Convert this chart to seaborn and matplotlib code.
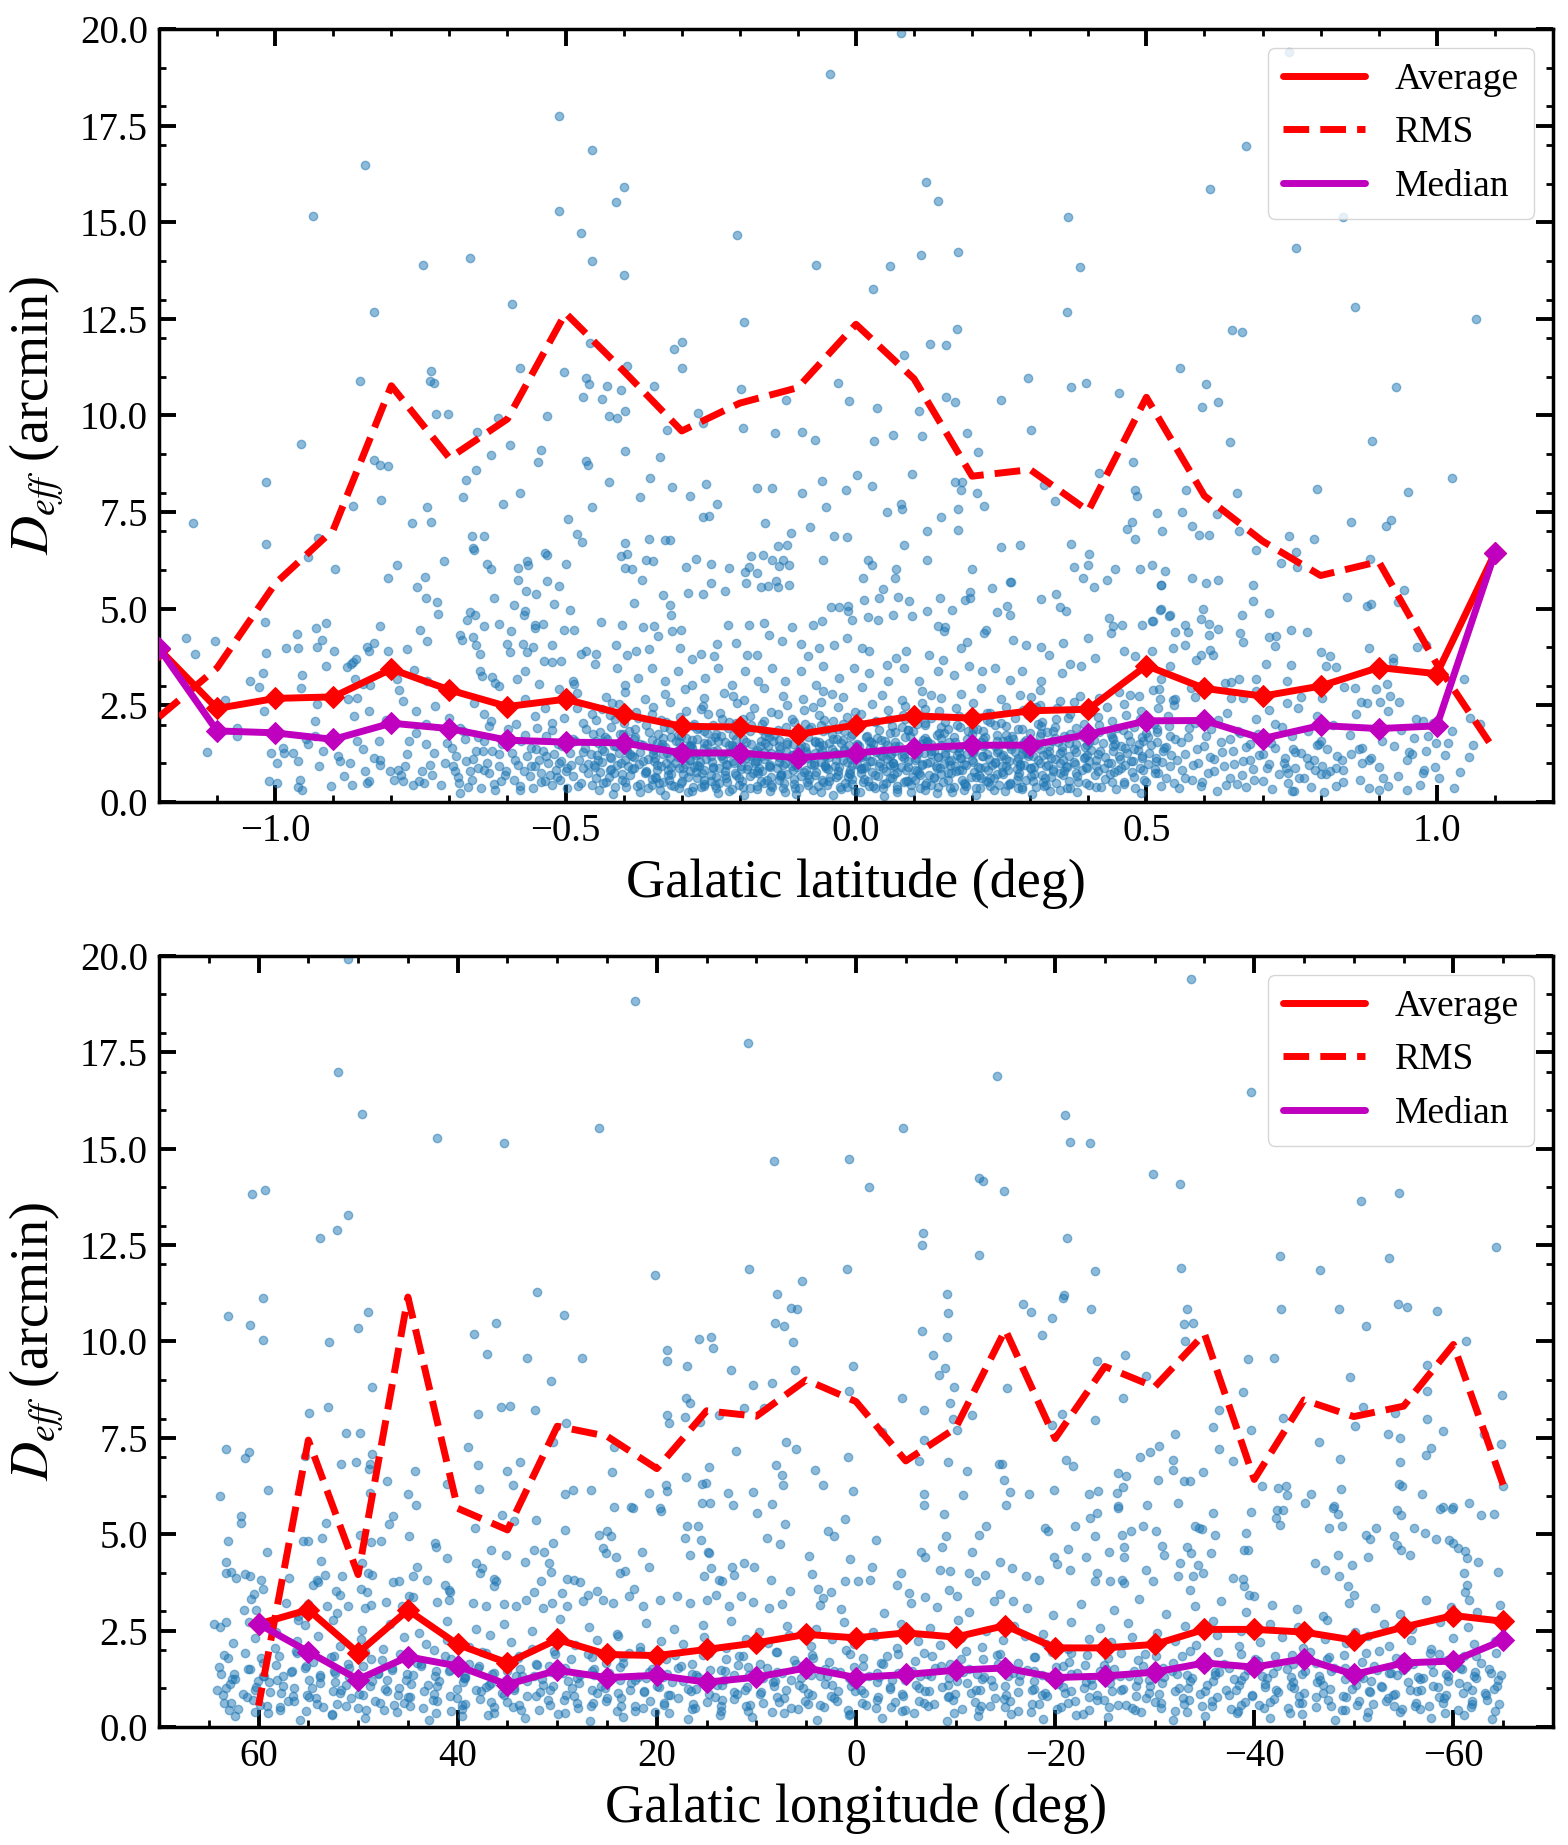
import numpy as np
import pandas as pd
import seaborn as sns
import matplotlib
matplotlib.use("Agg")
import matplotlib.pyplot as plt
from matplotlib.lines import Line2D
from matplotlib.ticker import MultipleLocator

# ---------------- binned statistics ----------------
lat_bins = [-1.2, -1.1, -1.0, -0.9, -0.8, -0.7, -0.6, -0.5, -0.4, -0.3, -0.2, -0.1,
            0.0, 0.1, 0.2, 0.3, 0.4, 0.5, 0.6, 0.7, 0.8, 0.9, 1.0, 1.1]
lat_avg = [3.96, 2.42, 2.68, 2.72, 3.44, 2.90, 2.47, 2.66, 2.27, 1.96, 1.94, 1.75,
           1.99, 2.23, 2.17, 2.36, 2.40, 3.53, 2.94, 2.74, 3.00, 3.48, 3.32, 6.44]
lat_rms = [2.20, 3.47, 5.65, 7.04, 10.77, 8.90, 9.91, 12.65, 11.15, 9.60, 10.32, 10.72,
           12.36, 10.95, 8.43, 8.60, 7.53, 10.47, 7.92, 6.75, 5.86, 6.22, 3.57, 1.33]
lat_med = [3.98, 1.84, 1.79, 1.62, 2.04, 1.90, 1.60, 1.55, 1.53, 1.27, 1.27, 1.14,
           1.27, 1.40, 1.47, 1.47, 1.75, 2.10, 2.11, 1.64, 1.98, 1.90, 1.97, 6.44]

lon_bins = [60, 55, 50, 45, 40, 35, 30, 25, 20, 15, 10, 5, 0,
            -5, -10, -15, -20, -25, -30, -35, -40, -45, -50, -55, -60, -65]
lon_avg = [2.67, 3.04, 1.92, 3.03, 2.14, 1.66, 2.27, 1.88, 1.85, 2.01, 2.18, 2.40, 2.31,
           2.44, 2.33, 2.63, 2.05, 2.05, 2.14, 2.53, 2.53, 2.46, 2.25, 2.59, 2.89, 2.74]
lon_rms = [0.55, 7.44, 3.95, 11.15, 5.67, 5.11, 7.80, 7.54, 6.70, 8.20, 8.06, 9.00, 8.44,
           6.90, 7.75, 10.30, 7.48, 9.35, 8.82, 10.20, 6.42, 8.48, 8.05, 8.32, 9.92, 6.28]
lon_med = [2.67, 1.95, 1.23, 1.82, 1.58, 1.10, 1.47, 1.28, 1.34, 1.16, 1.29, 1.53, 1.28,
           1.36, 1.47, 1.53, 1.28, 1.32, 1.42, 1.66, 1.55, 1.77, 1.36, 1.66, 1.71, 2.25]

# ---------------- individual sources (x y pairs, estimated from the figure) ----------------
lat_pts_high = """
-0.045 18.83 -0.511 17.75 -0.454 16.88 -0.845 16.47 -0.400 15.90 -0.414 15.52 -0.935 15.17 -0.512 15.28
-0.473 14.73 -0.205 14.68 -0.746 13.90 -0.665 14.08 -0.455 13.99 -0.400 13.63 -0.068 13.90 -0.592 12.88
-0.829 12.67 -0.192 12.43 -0.458 11.87 -0.300 11.90 -0.313 11.72 -0.300 11.22 -0.578 11.22 -0.732 11.14
-0.854 10.90 -0.734 10.88 -0.726 10.83 -0.503 11.12 -0.464 10.96 -0.459 10.82 -0.394 11.27 -0.348 10.77
-0.428 10.77 -0.404 10.67 -0.470 10.48 -0.437 10.42 -0.198 10.68 -0.121 10.41 -0.031 10.83 -0.012 10.38
-0.723 10.04 -0.703 10.05 -0.617 9.94 -0.532 9.99 -0.425 9.99 -0.412 9.94 -0.398 10.12 -0.272 10.06
-0.264 9.81 -0.325 9.63 -0.194 9.67 -0.140 9.55 -0.093 9.57 -0.070 9.37 -0.652 9.57 -0.955 9.26
-0.596 9.24 -0.542 9.11 -0.548 8.80 -0.628 8.97 -0.398 9.09 -0.464 8.82 -0.462 8.71 -0.338 8.93
-0.829 8.86 -0.819 8.71 -0.806 8.70 -1.015 8.28 -0.671 8.33 -0.655 8.60 -0.059 8.31 -0.354 8.39
-0.425 8.27 -0.259 8.22 -0.170 8.13 -0.144 8.13 -0.017 8.08 -0.316 8.15 -0.818 7.81 -0.578 8.00
-0.677 7.90 -0.608 7.70 -0.371 7.88 -0.286 7.91 -0.240 7.70 -0.093 8.00 -0.052 7.63 -0.866 7.66
-0.738 7.62 -0.455 7.62 -1.141 7.23 -0.731 7.25 -0.765 7.22 -0.495 7.32 -0.263 7.38 -0.253 7.39
-0.157 7.23 -0.080 7.12 -0.015 6.85 -0.480 6.93 -0.472 6.73 -0.661 6.88 -0.641 6.87 -0.660 6.57
-0.657 6.53 -0.398 6.69 -0.357 6.81 -0.329 6.79 -0.320 6.78 -0.112 6.97 -0.134 6.62 -0.118 6.64
-1.015 6.67 -0.927 6.83 -0.943 6.34 -0.897 6.03 -0.790 6.14 -0.710 6.23 -0.635 6.17 -0.629 6.03
-0.582 6.06 -0.566 6.23 -0.564 6.14 -0.535 6.43 -0.532 6.38 -0.500 6.15 -0.404 6.36 -0.394 6.41
-0.398 6.05 -0.385 6.03 -0.362 6.26 -0.349 6.24 -0.292 6.08 -0.275 6.29 -0.249 6.15 -0.219 6.06
-0.191 5.95 -0.185 6.08 -0.180 6.37 -0.170 5.93 -0.160 6.38 -0.145 6.26 -0.132 6.11 -0.126 6.27
-0.115 6.14 -0.056 6.27 -0.037 6.87 -0.806 5.79 -0.742 5.81 -0.582 5.75 -0.532 5.73 -0.368 5.74
0.078 19.90 0.745 19.40 0.672 16.98 0.120 16.04 0.609 15.85 0.141 15.54 0.365 15.13 0.758 14.33
0.839 15.13 0.112 14.15 0.059 13.86 0.175 14.22 0.385 13.83 0.030 13.27 0.859 12.80 1.068 12.50
0.364 12.67 0.174 12.24 0.648 12.21 0.665 12.17 0.127 11.86 0.155 11.82 0.082 11.57 0.558 11.24
0.297 10.98 0.371 10.75 0.396 10.83 0.453 10.59 0.602 10.82 0.930 10.73 0.036 10.20 0.108 10.11
0.155 10.48 0.171 10.36 0.250 10.41 0.595 10.23 0.624 10.35 0.031 9.34 0.063 9.49 0.113 9.47
0.191 9.54 0.301 9.63 0.644 9.32 0.889 9.35 0.210 9.05 0.001 8.45 0.027 8.18 0.096 8.49
0.171 8.27 0.180 8.08 0.182 8.27 0.209 8.00 0.221 7.67 0.175 7.57 0.054 7.51 0.077 7.72
0.080 7.58 0.323 8.20 0.342 7.80 0.418 8.52 0.477 8.80 0.480 8.08 0.483 7.93 0.568 8.06
0.656 7.99 0.794 8.10 0.950 8.03 1.027 8.39 0.519 7.47 0.562 7.50 0.621 7.45 0.146 7.38
0.123 7.00 0.175 7.05 0.083 6.64 0.475 7.25 0.466 7.07 0.481 6.81 0.527 7.01 0.578 7.13
0.590 6.92 0.607 6.90 0.659 7.00 0.746 6.88 0.788 6.80 0.853 7.25 0.912 7.13 0.922 7.29
0.689 6.53 0.758 6.48 0.885 6.29 0.250 6.60 0.283 6.66 0.371 6.68 0.401 6.42 0.400 6.14
0.376 6.08 0.446 6.02 0.489 6.04 0.509 6.14 0.532 5.98 0.578 5.80 0.624 5.75 0.731 6.18
0.760 6.07 0.021 6.27 0.027 6.14 0.069 6.02 0.122 6.27 0.200 6.02 0.012 5.80 0.068 5.80
0.266 5.70 0.391 5.80 0.433 5.74
"""

lat_pts_mid = """
-1.153 4.25 -1.138 3.83 -1.103 4.16 -1.018 4.65 -1.016 3.85 -1.043 3.14 -1.021 3.33 -1.028 2.98
-1.019 2.36 -1.087 2.63 -0.982 3.98 -0.961 3.98 -0.963 4.35 -0.929 4.51 -0.913 4.63 -0.919 4.19
-0.928 4.00 -0.898 3.92 -0.954 3.29 -0.955 2.94 -0.913 3.53 -0.877 3.50 -0.870 3.57 -0.866 3.61
-0.860 3.70 -0.819 4.56 -0.829 4.12 -0.806 3.90 -0.839 3.92 -0.842 4.00 -0.862 3.18 -0.849 3.05
-0.836 3.02 -0.859 2.70 -0.865 2.23 -0.773 3.95 -0.761 3.41 -0.791 3.18 -0.786 2.89 -0.751 4.46
-0.755 5.56 -0.741 5.28 -0.739 4.17 -0.722 5.17 -0.720 4.87 -0.681 4.31 -0.678 4.18 -0.669 4.72
-0.664 4.91 -0.656 4.84 -0.660 4.26 -0.655 4.05 -0.640 4.56 -0.624 5.29 -0.615 4.61 -0.648 3.83
-0.647 3.40 -0.644 3.26 -0.622 3.09 -0.615 3.01 -0.626 3.24 -0.707 2.88 -0.739 3.14 -0.724 2.49
-0.589 5.11 -0.568 5.46 -0.551 5.37 -0.572 4.85 -0.569 4.94 -0.553 4.57 -0.552 4.50 -0.539 4.61
-0.520 5.13 -0.511 5.58 -0.493 4.96 -0.486 4.44 -0.503 4.44 -0.594 4.42 -0.574 4.09 -0.566 3.87
-0.556 4.00 -0.523 4.05 -0.508 3.66 -0.523 3.63 -0.537 3.66 -0.595 3.87 -0.600 4.09 -0.583 3.18
-0.570 3.40 -0.546 3.05 -0.512 2.92 -0.487 3.14 -0.486 3.05 -0.481 2.83 -0.474 3.83 -0.465 3.92
-0.447 3.83 -0.450 3.57 -0.439 4.65
-0.151 5.60 -0.138 5.72 -0.135 5.56 -0.115 5.61 -0.163 5.55 -0.190 5.67 -0.226 5.46 -0.249 5.66
-0.264 5.37 -0.289 5.42 -0.383 5.14 -0.332 5.36 -0.320 5.10 -0.318 4.85 -0.316 4.42 -0.301 4.45
-0.347 4.55 -0.366 4.53 -0.403 4.57 -0.413 4.07 -0.395 3.81 -0.378 3.90 -0.357 3.97 -0.340 4.29
-0.303 3.99 -0.283 3.70 -0.266 3.82 -0.245 3.77 -0.220 4.58 -0.240 4.09 -0.207 4.12 -0.184 4.59
-0.188 3.81 -0.171 3.81 -0.158 4.64 -0.150 4.31 -0.128 4.16 -0.110 4.52 -0.095 4.09 -0.074 4.59
-0.059 4.68 -0.043 5.05 -0.030 5.04 -0.013 5.06 -0.014 4.94 -0.007 4.72 0.013 5.23 0.020 4.79
0.038 4.72 0.064 4.85 0.039 5.29 0.046 5.50 0.072 5.31 0.092 5.21 0.096 4.81 0.122 4.94
0.145 5.29 0.151 4.42 0.141 4.55 0.153 4.53 0.166 4.96 0.188 5.22 0.196 5.43 0.197 5.29
0.220 4.38 0.234 5.54 0.242 4.91 0.260 5.06 0.266 4.85 0.267 5.69 0.319 5.24 0.345 5.37
0.352 5.05 0.362 4.94 0.410 5.55 0.436 4.77 0.525 5.61 0.439 4.38 0.458 4.59 0.493 4.59
0.512 4.68 0.523 4.96 0.539 4.81 0.442 4.55 0.400 4.25 0.356 4.11 0.319 4.00 0.293 4.07
0.270 4.18 0.224 4.45 0.191 4.13 0.181 3.99 0.150 3.68 0.125 3.81 0.086 3.90 0.069 3.73
0.053 3.55 0.023 3.90 0.010 3.99 -0.016 4.25 -0.038 4.07 -0.063 3.99 -0.082 3.77 0.368 3.58
0.387 3.51 0.411 3.73 0.461 3.90 0.480 3.77 0.510 3.90 0.546 3.99 0.332 3.81 0.355 3.34
0.319 3.12 0.286 3.38 0.266 3.16 0.240 3.47 0.217 3.38 0.194 3.51 0.168 3.29 0.141 3.38
0.109 3.12 0.082 3.47 0.056 3.12 0.023 3.34 -0.003 3.47 -0.030 3.21 -0.056 3.51 -0.069 3.03
-0.095 3.38 -0.122 3.12 -0.145 3.47 -0.168 3.12 -0.191 3.38 -0.214 3.03 -0.237 3.47 -0.260 3.21
-0.283 3.03 -0.306 3.38 -0.329 3.12 -0.352 3.47 -0.375 3.21 -0.398 3.03 -0.411 3.47
0.526 5.62 0.603 5.66 0.683 5.61 0.683 5.21 0.846 5.30 0.880 5.06 0.886 5.13 0.943 5.49
0.933 5.17 0.509 4.69 0.526 5.00 0.540 4.84 0.550 4.41 0.571 4.41 0.566 4.58 0.566 4.07
0.597 5.00 0.594 4.74 0.607 4.61 0.607 4.33 0.623 4.48 0.610 3.93 0.614 3.81 0.594 3.80
0.586 3.67 0.665 4.84 0.661 4.37 0.667 4.13 0.711 4.88 0.711 4.26 0.724 4.29 0.721 4.04
0.706 3.58 0.749 4.46 0.776 4.41 0.749 3.54 0.801 3.87 0.816 3.78 0.810 3.52 0.826 3.50
0.884 3.98 0.924 3.72 0.925 3.61 0.966 4.02 0.981 4.06 1.046 3.18 0.742 3.13 0.688 3.18
0.659 3.18 0.646 3.11 0.635 3.07 0.583 2.72 0.576 2.94 0.540 3.52 0.525 3.19 0.511 2.89
0.523 2.66 0.549 2.66 0.646 2.70 0.666 2.70 0.688 2.86 0.711 2.38 0.742 2.55 0.766 2.72
0.803 2.68 0.840 2.98 0.860 2.94 0.869 2.60 0.880 2.57 0.896 2.92 0.902 2.60 0.915 3.05
0.920 2.74 0.935 2.60 0.965 2.16 0.977 2.10 0.985 1.71 0.998 1.52 1.019 1.52 1.027 1.85
1.058 2.18 1.074 2.01 1.063 1.47 1.056 1.17 1.040 0.78 0.997 0.90 0.977 0.74 0.978 0.82
0.934 0.67 0.949 1.10 0.953 1.29 0.957 1.23 0.901 0.91 0.908 0.62 0.916 0.42 0.901 0.30
0.887 1.14 0.883 1.10 0.853 1.23 0.866 1.36 0.871 1.01 0.867 0.58 0.827 0.88 0.839 0.84
0.837 1.10 0.803 0.93 0.800 0.73 0.810 0.73 0.827 0.42 0.791 0.84 0.793 1.47 0.798 1.49
0.777 1.14 0.780 0.97 0.762 0.62 0.750 0.28 0.755 0.29 0.737 1.01 0.740 0.88 0.743 0.75
0.753 1.38 0.756 1.30
"""

lat_pts_low = """
-1.117 1.30 -1.066 1.92 -1.066 1.71 -1.010 0.54 -0.997 0.49 -1.007 1.27 -0.987 1.40 -0.984 1.27
-0.970 1.27 -0.961 1.06 -0.997 1.01 -0.944 1.49 -0.947 1.62 -0.957 0.58 -0.953 0.32 -0.961 0.38
-0.931 1.71 -0.928 2.53 -0.932 2.10 -0.924 0.93 -0.918 1.32 -0.903 0.41 -0.891 1.19 -0.888 1.06
-0.882 0.67 -0.875 2.66 -0.872 1.01 -0.868 0.45 -0.859 1.58 -0.849 1.36 -0.845 0.80 -0.842 0.49
-0.839 0.54 -0.829 1.14 -0.822 1.58 -0.820 1.10 -0.820 0.97 -0.803 0.80 -0.796 0.58 -0.789 0.84
-0.783 0.71 -0.780 0.54 -0.776 0.93 -0.773 1.23 -0.770 1.58 -0.763 0.45 -0.757 1.79 -0.753 0.54
-0.747 0.80 -0.744 0.49 -0.741 1.49 -0.734 0.97 -0.730 0.71 -0.727 1.27 -0.714 0.45 -0.707 1.01
-0.704 1.53 -0.694 0.93 -0.691 0.80 -0.688 1.19 -0.684 0.49 -0.681 0.23 -0.674 1.62 -0.671 1.06
-0.664 0.80 -0.661 0.58 -0.655 1.32 -0.651 0.88 -0.645 0.36 -0.641 1.58 -0.635 1.01 -0.632 0.75
-0.626 1.32 -0.622 0.32 -0.615 0.93 -0.612 0.54 -0.609 1.49 -0.602 0.80 -0.599 1.88 -0.592 1.27
-0.589 0.58 -0.582 0.97 -0.579 0.41 -0.576 1.58 -0.572 0.80 -0.566 1.19 -0.562 0.67 -0.559 1.40
-0.556 0.36 -0.553 0.93 -0.549 1.92 -0.546 1.10 -0.543 0.75 -0.539 1.32 -0.536 0.54 -0.533 1.71
-0.530 1.01 -0.526 0.71 -0.523 0.45 -0.520 1.23 -0.516 0.84 -0.513 1.49 -0.510 0.58 -0.507 1.06
-0.503 2.18 -0.500 0.80 -0.497 0.36 -0.493 1.27 -0.490 0.97 -0.487 0.67 -0.484 1.58 -0.477 1.10
-0.474 0.49 -0.470 0.88 -0.467 1.40 -0.464 1.88 -0.461 0.75 -0.457 1.23 -0.454 0.45 -0.451 0.97
-0.447 1.58 -0.780 2.62 -0.701 2.18 -0.681 1.92 -0.641 2.27 -0.628 2.10 -0.586 2.01 -0.569 2.66
-0.553 2.23 -0.536 2.44 -0.523 2.05 -0.480 2.44 -0.470 2.05 -0.454 2.27 -0.741 2.01 -0.809 2.11
-0.839 2.36 -0.757 2.36 -0.658 2.57
0.556 0.35 0.561 0.82 0.567 1.24 0.572 1.67 0.578 0.58 0.583 2.05 0.589 1.02 0.594 0.41
0.600 1.45 0.606 0.76 0.611 1.88 0.617 1.12 0.622 0.29 0.628 1.56 0.633 0.94 0.639 2.31
0.644 0.63 0.650 1.33 0.656 0.47 0.661 1.78 0.667 1.05 0.672 0.38 0.678 1.49 0.683 0.85
0.689 2.14 0.694 1.21 0.700 0.55 0.706 1.62 0.711 0.98 0.717 0.33 0.722 1.39 0.728 0.72
0.733 1.95 0.739 1.15 0.744 0.49 0.750 1.71 0.756 0.88 0.761 2.42 0.767 1.27 0.772 0.61
0.778 1.83 0.783 0.40 0.789 1.09 0.794 2.22 0.800 1.58 0.806 0.27 0.811 1.36 0.817 0.79
0.822 1.99 0.828 1.18 0.839 0.52 0.850 1.74 0.861 2.28 0.872 1.41 0.883 0.36 0.894 1.92
0.905 1.58 0.916 2.36 0.927 1.44 0.938 1.87 0.949 0.31 0.960 1.65 0.971 0.45 0.982 1.31
0.993 2.05 1.004 0.62 1.015 1.21 1.030 0.35
"""

lat_pts_core = """
-0.442 0.31 -0.418 0.22 -0.396 0.40 -0.371 0.27 -0.352 0.44 -0.329 0.19 -0.305 0.35 -0.283 0.28
-0.261 0.42 -0.238 0.24 -0.214 0.33 -0.192 0.17 -0.171 0.41 -0.148 0.29 -0.126 0.36 -0.103 0.21
-0.082 0.44 -0.061 0.26 -0.039 0.18 -0.016 0.38 0.007 0.25 0.029 0.42 0.048 0.16 0.071 0.34
0.094 0.27 0.118 0.43 0.139 0.23 0.162 0.36 0.186 0.30 0.207 0.19 0.231 0.41 0.256 0.28
0.279 0.37 0.303 0.22 0.328 0.44 0.352 0.31 0.381 0.26 0.413 0.39 0.447 0.33 0.491 0.24
-0.447 0.63 -0.431 0.51 -0.416 0.74 -0.403 0.58 -0.389 0.69 -0.372 0.47 -0.361 0.78 -0.344 0.61
-0.332 0.53 -0.318 0.72 -0.301 0.49 -0.289 0.66 -0.276 0.77 -0.262 0.56 -0.249 0.70 -0.236 0.48
-0.223 0.62 -0.208 0.75 -0.197 0.54 -0.183 0.67 -0.171 0.79 -0.158 0.50 -0.146 0.64 -0.133 0.57
-0.119 0.73 -0.107 0.46 -0.094 0.68 -0.081 0.59 -0.069 0.77 -0.056 0.52 -0.044 0.65 -0.031 0.71
-0.019 0.48 -0.006 0.60 0.008 0.76 0.021 0.55 0.033 0.69 0.046 0.47 0.058 0.63 0.071 0.78
0.083 0.53 0.096 0.66 0.109 0.74 0.121 0.50 0.134 0.61 0.147 0.72 0.159 0.57 0.172 0.79
0.186 0.49 0.198 0.65 0.211 0.70 0.224 0.54 0.238 0.62 0.251 0.77 0.266 0.47 0.279 0.68
0.293 0.58 0.307 0.73 0.322 0.51 0.336 0.64 0.351 0.76 0.366 0.55 0.381 0.67 0.396 0.49
0.412 0.71 0.428 0.60 0.444 0.78 0.461 0.52 0.478 0.66 0.496 0.57 0.514 0.74 0.533 0.63
0.548 0.50 -0.425 0.66 -0.352 0.59 -0.241 0.64 -0.129 0.69 -0.013 0.66 0.102 0.58 0.216 0.61
-0.449 0.91 -0.437 1.04 -0.424 0.83 -0.411 0.97 -0.398 1.08 -0.386 0.86 -0.373 0.99 -0.361 0.81
-0.348 1.06 -0.336 0.93 -0.323 0.84 -0.311 1.01 -0.298 0.89 -0.286 1.09 -0.273 0.95 -0.261 0.82
-0.248 1.03 -0.236 0.88 -0.223 0.98 -0.211 1.07 -0.198 0.85 -0.186 0.94 -0.173 1.05 -0.161 0.81
-0.148 0.96 -0.136 0.87 -0.123 1.02 -0.111 0.92 -0.098 1.09 -0.086 0.83 -0.073 0.97 -0.061 1.04
-0.048 0.86 -0.036 0.93 -0.023 1.08 -0.011 0.82 0.002 0.99 0.014 0.88 0.027 1.05 0.039 0.94
0.052 0.81 0.064 1.01 0.077 0.90 0.089 1.07 0.102 0.84 0.114 0.96 0.127 1.03 0.139 0.87
0.152 0.98 0.164 1.09 0.177 0.83 0.189 0.95 0.202 1.04 0.214 0.89 0.227 0.82 0.239 1.00
0.252 0.92 0.264 1.06 0.277 0.85 0.289 0.97 0.302 0.88 0.314 1.08 0.327 0.93 0.339 0.81
0.352 1.02 0.364 0.90 0.377 0.99 0.389 0.84 0.402 1.05 0.414 0.94 0.427 0.87 0.439 1.01
0.452 0.82 0.464 0.96 0.477 1.07 0.489 0.89 0.502 0.98 0.514 0.85 0.527 1.03 0.541 0.92
-0.392 0.94 -0.279 0.91 -0.167 0.89 -0.054 0.92 0.058 0.95 0.171 0.92 0.283 0.94 0.396 0.91
-0.105 0.99 0.008 0.87
-0.446 1.21 -0.433 1.33 -0.421 1.14 -0.408 1.27 -0.396 1.38 -0.383 1.16 -0.371 1.29 -0.358 1.11
-0.346 1.36 -0.333 1.23 -0.321 1.14 -0.308 1.31 -0.296 1.19 -0.283 1.39 -0.271 1.25 -0.258 1.12
-0.246 1.33 -0.233 1.18 -0.221 1.28 -0.208 1.37 -0.196 1.15 -0.183 1.24 -0.171 1.35 -0.158 1.11
-0.146 1.26 -0.133 1.17 -0.121 1.32 -0.108 1.22 -0.096 1.39 -0.083 1.13 -0.071 1.27 -0.058 1.34
-0.046 1.16 -0.033 1.23 -0.021 1.38 -0.008 1.12 0.004 1.29 0.017 1.18 0.029 1.35 0.042 1.24
0.054 1.11 0.067 1.31 0.079 1.20 0.092 1.37 0.104 1.14 0.117 1.26 0.129 1.33 0.142 1.17
0.154 1.28 0.167 1.39 0.179 1.13 0.192 1.25 0.204 1.34 0.217 1.19 0.229 1.12 0.242 1.30
0.254 1.22 0.267 1.36 0.279 1.15 0.292 1.27 0.304 1.18 0.317 1.38 0.329 1.23 0.342 1.11
0.354 1.32 0.367 1.20 0.379 1.29 0.392 1.14 0.404 1.35 0.417 1.24 0.429 1.17 0.442 1.31
0.454 1.12 0.467 1.26 0.479 1.37 0.492 1.19 0.504 1.28 0.517 1.15 0.529 1.33 0.543 1.22
-0.389 1.24 -0.276 1.21 -0.164 1.19 -0.051 1.22 0.061 1.25 0.174 1.22 0.286 1.24 0.398 1.21
-0.102 1.29 0.011 1.17
-0.444 1.52 -0.428 1.64 -0.413 1.45 -0.397 1.58 -0.381 1.69 -0.366 1.47 -0.351 1.60 -0.335 1.42
-0.319 1.67 -0.304 1.54 -0.288 1.45 -0.273 1.62 -0.257 1.50 -0.242 1.69 -0.226 1.56 -0.211 1.43
-0.195 1.64 -0.180 1.49 -0.164 1.59 -0.149 1.68 -0.133 1.46 -0.118 1.55 -0.102 1.66 -0.087 1.42
-0.071 1.57 -0.056 1.48 -0.040 1.63 -0.025 1.53 -0.009 1.70 0.006 1.44 0.022 1.58 0.037 1.65
0.053 1.47 0.068 1.54 0.084 1.69 0.099 1.43 0.115 1.60 0.130 1.49 0.146 1.66 0.161 1.55
0.177 1.42 0.192 1.62 0.208 1.51 0.223 1.68 0.239 1.45 0.254 1.57 0.270 1.64 0.285 1.48
0.301 1.59 0.316 1.70 0.332 1.44 0.347 1.56 0.363 1.65 0.378 1.50 0.394 1.43 0.409 1.61
0.425 1.53 0.440 1.67 0.456 1.46 0.471 1.58 0.487 1.49 0.502 1.69 0.518 1.54 0.533 1.42
0.549 1.63 -0.436 1.58 -0.343 1.53 -0.250 1.57 -0.157 1.52 -0.064 1.55 0.029 1.51 0.122 1.54
0.215 1.56 0.308 1.52 0.401 1.55 0.494 1.57 -0.293 1.66 -0.012 1.47 0.262 1.61 0.446 1.50
-0.441 1.82 -0.421 1.94 -0.401 1.75 -0.381 1.88 -0.361 1.99 -0.341 1.77 -0.321 1.90 -0.301 1.72
-0.281 1.97 -0.261 1.84 -0.241 1.75 -0.221 1.92 -0.201 1.80 -0.181 1.99 -0.161 1.86 -0.141 1.73
-0.121 1.94 -0.101 1.79 -0.081 1.89 -0.061 1.98 -0.041 1.76 -0.021 1.85 -0.001 1.96 0.019 1.72
0.039 1.87 0.059 1.78 0.079 1.93 0.099 1.83 0.119 2.00 0.139 1.74 0.159 1.88 0.179 1.95
0.199 1.77 0.219 1.84 0.239 1.99 0.259 1.73 0.279 1.90 0.299 1.79 0.319 1.96 0.339 1.85
0.359 1.72 0.379 1.92 0.399 1.81 0.419 1.98 0.439 1.75 0.459 1.87 0.479 1.94 0.499 1.78
0.519 1.89 0.539 1.97 -0.391 1.83 -0.271 1.91 -0.151 1.81 -0.031 1.90 0.089 1.86 0.209 1.89
0.329 1.82 0.449 1.91 -0.211 1.74 0.151 1.79
-0.447 2.12 -0.423 2.24 -0.399 2.05 -0.375 2.18 -0.351 2.29 -0.327 2.07 -0.303 2.20 -0.279 2.02
-0.255 2.27 -0.231 2.14 -0.207 2.05 -0.183 2.22 -0.159 2.10 -0.135 2.29 -0.111 2.16 -0.087 2.03
-0.063 2.24 -0.039 2.09 -0.015 2.19 0.009 2.28 0.033 2.06 0.057 2.15 0.081 2.26 0.105 2.02
0.129 2.17 0.153 2.08 0.177 2.23 0.201 2.13 0.225 2.30 0.249 2.04 0.273 2.18 0.297 2.25
0.321 2.07 0.345 2.14 0.369 2.29 0.393 2.03 0.417 2.20 0.441 2.09 0.465 2.26 0.489 2.15
0.513 2.02 0.537 2.22 -0.335 2.13 -0.195 2.16 -0.055 2.12 0.085 2.14 0.225 2.11 0.365 2.17
0.505 2.13 -0.415 2.16
-0.437 2.41 -0.408 2.53 -0.379 2.34 -0.350 2.47 -0.321 2.58 -0.292 2.36 -0.263 2.49 -0.234 2.31
-0.205 2.56 -0.176 2.43 -0.147 2.34 -0.118 2.51 -0.089 2.39 -0.060 2.58 -0.031 2.45 -0.002 2.32
0.027 2.53 0.056 2.38 0.085 2.48 0.114 2.57 0.143 2.35 0.172 2.44 0.201 2.55 0.230 2.31
0.259 2.46 0.288 2.37 0.317 2.52 0.346 2.42 0.375 2.59 0.404 2.33 0.433 2.47 0.462 2.54
0.491 2.36 0.520 2.43 0.547 2.51 -0.266 2.41 -0.074 2.47 0.118 2.40 0.310 2.45 -0.420 2.57
-0.431 2.72 -0.397 2.85 -0.363 2.66 -0.329 2.79 -0.295 2.93 -0.261 2.69 -0.227 2.82 -0.193 2.63
-0.159 2.96 -0.125 2.75 -0.091 2.67 -0.057 2.88 -0.023 2.71 0.011 2.98 0.045 2.77 0.079 2.64
0.113 2.86 0.147 2.70 0.181 2.80 0.215 2.94 0.249 2.66 0.283 2.78 0.317 2.89 0.351 2.62
0.385 2.74 0.419 2.68 0.453 2.84 0.487 2.73 0.521 2.92 0.546 2.65 -0.212 2.75 -0.041 2.79
0.130 2.76 0.301 2.72 0.472 2.77
-0.436 0.49 -0.415 0.38 -0.397 0.53 -0.377 0.41 -0.358 0.36 -0.339 0.50 -0.319 0.43 -0.300 0.55
-0.280 0.39 -0.261 0.47 -0.241 0.35 -0.222 0.52 -0.202 0.44 -0.183 0.37 -0.163 0.54 -0.144 0.40
-0.124 0.48 -0.105 0.36 -0.085 0.51 -0.066 0.42 -0.046 0.55 -0.027 0.38 -0.007 0.46 0.012 0.53
0.032 0.35 0.051 0.49 0.071 0.41 0.090 0.54 0.110 0.37 0.129 0.45 0.149 0.52 0.168 0.39
0.188 0.47 0.207 0.36 0.227 0.53 0.246 0.43 0.266 0.50 0.285 0.38 0.305 0.55 0.324 0.41
0.344 0.48 0.363 0.36 0.383 0.52 0.402 0.44 0.422 0.39 0.441 0.53 0.461 0.46 0.480 0.37
0.500 0.51 0.525 0.42
-0.441 0.78 -0.421 0.86 -0.402 0.72 -0.382 0.89 -0.363 0.75 -0.343 0.83 -0.324 0.71 -0.304 0.87
-0.285 0.79 -0.265 0.74 -0.246 0.88 -0.226 0.81 -0.207 0.70 -0.187 0.85 -0.168 0.76 -0.148 0.90
-0.129 0.73 -0.109 0.84 -0.090 0.78 -0.070 0.71 -0.051 0.88 -0.031 0.80 -0.012 0.74 0.008 0.86
0.027 0.77 0.047 0.89 0.066 0.72 0.086 0.83 0.105 0.79 0.125 0.70 0.144 0.87 0.164 0.75
0.183 0.84 0.203 0.78 0.222 0.90 0.242 0.73 0.261 0.82 0.281 0.76 0.300 0.88 0.320 0.71
0.339 0.85 0.359 0.79 0.378 0.74 0.398 0.87 0.417 0.80 0.437 0.72 0.456 0.89 0.476 0.77
0.495 0.84 0.520 0.75
-0.444 1.08 -0.424 1.16 -0.405 1.02 -0.385 1.19 -0.366 1.05 -0.346 1.13 -0.327 1.01 -0.307 1.17
-0.288 1.09 -0.268 1.04 -0.249 1.18 -0.229 1.11 -0.210 1.00 -0.190 1.15 -0.171 1.06 -0.151 1.20
-0.132 1.03 -0.112 1.14 -0.093 1.08 -0.073 1.01 -0.054 1.18 -0.034 1.10 -0.015 1.04 0.005 1.16
0.024 1.07 0.044 1.19 0.063 1.02 0.083 1.13 0.102 1.09 0.122 1.00 0.141 1.17 0.161 1.05
0.180 1.14 0.200 1.08 0.219 1.20 0.239 1.03 0.258 1.12 0.278 1.06 0.297 1.18 0.317 1.01
0.336 1.15 0.356 1.09 0.375 1.04 0.395 1.17 0.414 1.10 0.434 1.02 0.453 1.19 0.473 1.07
0.492 1.14 0.517 1.05
-0.438 1.38 -0.416 1.46 -0.394 1.32 -0.372 1.49 -0.350 1.35 -0.328 1.43 -0.306 1.31 -0.284 1.47
-0.262 1.39 -0.240 1.34 -0.218 1.48 -0.196 1.41 -0.174 1.30 -0.152 1.45 -0.130 1.36 -0.108 1.50
-0.086 1.33 -0.064 1.44 -0.042 1.38 -0.020 1.31 0.002 1.48 0.024 1.40 0.046 1.34 0.068 1.46
0.090 1.37 0.112 1.49 0.134 1.32 0.156 1.43 0.178 1.39 0.200 1.30 0.222 1.47 0.244 1.35
0.266 1.44 0.288 1.38 0.310 1.50 0.332 1.33 0.354 1.42 0.376 1.36 0.398 1.48 0.420 1.31
0.442 1.45 0.464 1.39 0.486 1.34 0.508 1.47 0.530 1.40
-0.432 1.68 -0.407 1.77 -0.382 1.62 -0.357 1.81 -0.332 1.66 -0.307 1.74 -0.282 1.61 -0.257 1.79
-0.232 1.70 -0.207 1.64 -0.182 1.83 -0.157 1.72 -0.132 1.60 -0.107 1.76 -0.082 1.67 -0.057 1.85
-0.032 1.63 -0.007 1.75 0.018 1.69 0.043 1.61 0.068 1.80 0.093 1.71 0.118 1.65 0.143 1.78
0.168 1.68 0.193 1.84 0.218 1.62 0.243 1.73 0.268 1.70 0.293 1.60 0.318 1.79 0.343 1.66
0.368 1.76 0.393 1.69 0.418 1.82 0.443 1.63 0.468 1.74 0.493 1.67 0.518 1.80 0.540 1.71
"""

lat_pts_dense = """
-0.338 0.31 -0.314 0.42 -0.290 0.27 -0.266 0.38 -0.242 0.45 -0.218 0.29 -0.194 0.40 -0.170 0.33
-0.146 0.44 -0.122 0.26 -0.098 0.37 -0.074 0.30 -0.050 0.43 -0.026 0.34 -0.002 0.28 0.022 0.41
0.046 0.36 0.070 0.25 0.094 0.44 0.118 0.32 0.142 0.39 0.166 0.27 0.190 0.42 0.214 0.35
0.238 0.30 0.262 0.45 0.286 0.33 0.310 0.40 0.334 0.28 0.368 0.37
-0.346 0.66 -0.322 0.58 -0.298 0.72 -0.274 0.61 -0.250 0.55 -0.226 0.69 -0.202 0.63 -0.178 0.74
-0.154 0.57 -0.130 0.67 -0.106 0.60 -0.082 0.71 -0.058 0.56 -0.034 0.65 -0.010 0.73 0.014 0.59
0.038 0.68 0.062 0.62 0.086 0.55 0.110 0.70 0.134 0.64 0.158 0.75 0.182 0.58 0.206 0.66
0.230 0.61 0.254 0.72 0.278 0.56 0.302 0.68 0.326 0.63 0.356 0.70
-0.342 0.95 -0.318 0.91 -0.294 0.98 -0.270 0.93 -0.246 0.90 -0.222 0.97 -0.198 0.94 -0.174 1.00
-0.150 0.92 -0.126 0.96 -0.102 0.90 -0.078 0.99 -0.054 0.95 -0.030 0.91 -0.006 0.97 0.018 0.93
0.042 1.00 0.066 0.94 0.090 0.90 0.114 0.98 0.138 0.92 0.162 0.96 0.186 0.99 0.210 0.91
0.234 0.95 0.258 0.93 0.282 0.99 0.306 0.90 0.330 0.96 0.362 0.94
-0.350 1.24 -0.326 1.28 -0.302 1.21 -0.278 1.26 -0.254 1.30 -0.230 1.22 -0.206 1.27 -0.182 1.20
-0.158 1.29 -0.134 1.25 -0.110 1.21 -0.086 1.28 -0.062 1.23 -0.038 1.30 -0.014 1.26 0.010 1.22
0.034 1.29 0.058 1.20 0.082 1.25 0.106 1.28 0.130 1.23 0.154 1.21 0.178 1.30 0.202 1.26
0.226 1.24 0.250 1.20 0.274 1.29 0.298 1.25 0.322 1.22 0.352 1.27
-0.334 1.50 -0.310 1.57 -0.286 1.46 -0.262 1.53 -0.238 1.59 -0.214 1.48 -0.190 1.55 -0.166 1.45
-0.142 1.58 -0.118 1.51 -0.094 1.47 -0.070 1.56 -0.046 1.52 -0.022 1.60 0.002 1.49 0.026 1.54
0.050 1.58 0.074 1.46 0.098 1.53 0.122 1.59 0.146 1.48 0.170 1.55 0.194 1.51 0.218 1.45
0.242 1.57 0.266 1.50 0.290 1.54 0.314 1.47 0.338 1.59 0.366 1.52
-0.330 1.93 -0.302 2.04 -0.274 1.88 -0.246 1.99 -0.218 2.08 -0.190 1.91 -0.162 2.02 -0.134 1.86
-0.106 2.06 -0.078 1.95 -0.050 1.89 -0.022 2.03 0.006 1.92 0.034 2.09 0.062 1.97 0.090 1.87
0.118 2.05 0.146 1.94 0.174 2.00 0.202 1.90 0.230 2.07 0.258 1.96 0.286 1.88 0.314 2.01
0.342 1.94
-0.695 1.41 -0.686 0.66 -0.677 1.83 -0.668 0.39 -0.659 1.12 -0.650 1.67 -0.641 0.83 -0.632 1.96
-0.623 0.47 -0.614 1.25 -0.605 0.71 -0.596 1.54 -0.587 1.08 -0.578 0.30 -0.569 1.74 -0.560 0.92
-0.551 1.36 -0.542 0.52 -0.533 1.19 -0.524 1.86 -0.515 0.64 -0.506 1.45 -0.497 0.87 -0.488 1.62
-0.479 0.41 -0.470 1.29 -0.461 0.99 -0.452 1.77 -0.643 1.31 -0.512 1.02
0.553 1.08 0.560 1.55 0.567 0.63 0.574 1.92 0.581 0.96 0.588 1.38 0.595 0.52 0.602 1.71
0.609 1.17 0.616 0.81 0.623 2.12 0.630 1.29 0.637 0.44 0.644 1.63 0.651 0.99 0.658 1.85
0.665 0.70 0.672 1.42 0.679 1.09 0.686 0.58 0.693 1.77 0.700 1.25 0.707 0.88 0.714 1.53
0.721 2.03
"""

lon_pts_high = """
51.00 19.91 22.16 18.83 10.83 17.75 51.98 16.99 49.60 15.91 42.04 15.28 35.33 15.14 25.83 15.54
8.19 14.69 0.66 14.74 60.63 13.83 59.33 13.92 51.00 13.28 52.16 12.88 53.78 12.68 20.14 11.72
10.78 11.88 0.89 11.89 5.41 11.57 32.01 11.27 59.51 11.12 63.09 10.67 60.81 10.43 48.98 10.77
50.06 10.36 59.51 10.04 52.88 9.99 29.28 10.69 38.33 10.20 36.13 10.48 37.03 9.68 33.04 9.57
27.49 9.56 7.92 11.22 6.57 10.87 5.90 10.83 8.14 10.49 7.20 10.41 6.35 9.99 15.80 10.06
14.59 10.12 14.32 9.82 19.02 9.78 18.98 9.50 16.96 9.36 12.53 9.25 6.08 9.26 30.67 8.97
48.58 8.82 10.38 8.87 8.41 8.93 0.66 8.72 54.94 8.15 53.06 8.30 35.64 8.31 34.79 8.33
32.19 8.21 37.92 8.12 29.10 7.89 17.10 8.52 16.65 8.40 18.94 8.08 18.76 7.88 17.15 8.03
15.71 7.91 13.78 8.08 11.23 8.28 9.26 8.27 51.22 7.62 49.83 7.62 63.27 7.22 60.94 7.12
61.39 6.97 55.30 7.03 51.76 6.82 50.19 6.88 48.94 6.69 48.63 7.08 48.80 6.83 38.95 7.25
37.92 6.79 35.06 6.65 33.76 6.86 30.44 7.38 24.26 7.25 24.49 6.60 14.73 6.74 17.05 6.48
15.44 6.30 15.09 6.34 12.08 7.15 7.02 7.39 6.04 7.22 8.05 6.80 7.47 6.54 7.34 6.28
4.16 6.67 3.31 6.28 0.80 7.01 59.10 6.14 63.85 5.99 47.06 6.37 48.85 6.08 44.24 6.63
45.04 6.03 41.10 6.30 44.19 5.75 37.83 6.16 34.47 6.28 28.43 6.15 29.23 6.03 26.59 6.14
20.77 6.06 19.07 6.28 18.98 6.13 12.84 6.08 10.33 6.10 12.40 5.76 8.41 5.79 15.44 5.81
14.64 5.81 24.31 5.70 22.56 5.71 19.65 5.67
-33.62 19.40 -14.12 16.89 -39.68 16.48 -4.74 15.54 -21.00 15.86 -21.50 15.17 -23.50 15.14 -1.32 14.00
-12.35 14.24 -12.80 14.16 -14.85 13.90 -29.80 14.33 -32.53 14.09 -50.71 13.64 -54.58 13.86 -6.74 12.80
-6.65 12.51 -21.23 12.68 -12.35 12.25 -42.60 12.22 -53.58 12.17 -64.33 12.44 -24.05 11.82 -32.66 11.90
-46.56 11.86 -9.11 11.24 -9.29 10.73 -20.87 11.21 -20.77 11.13 -16.77 10.97 -17.59 10.76 -19.68 10.61
-23.60 10.84 -33.21 10.85 -42.64 10.85 -48.47 10.85 -54.40 10.97 -55.35 10.90 -58.36 10.78 -6.61 10.28
-9.16 10.11 -18.72 10.17 -32.94 10.44 -33.85 10.47 -33.07 10.00 -51.25 10.40 -61.28 10.00 0.27 9.35
-7.74 9.65 -8.93 9.32 -8.34 9.12 -9.89 8.82 -4.65 8.52 -6.79 8.23 -9.48 8.40 -9.70 8.00
-10.11 7.70 -11.62 8.10 -15.13 8.80 -24.19 9.49 -26.97 9.64 -29.16 9.10 -26.83 8.54 -39.36 9.55
-41.96 9.56 -49.57 9.07 -57.36 9.38 -57.36 8.71 -64.87 8.60 -38.90 8.69 -20.68 8.12 -24.01 7.95
-36.49 8.23 -42.87 8.01 -50.93 8.29 -50.11 7.81 -54.17 8.14 -57.36 8.00 -58.95 7.68 -46.51 7.38
-53.39 7.60 -54.62 7.50 -57.77 7.24 -63.05 7.59 -64.83 7.33 -2.60 7.64 -6.83 7.43 -14.40 6.82
-6.38 6.90 -9.25 6.86 -11.12 6.64 -21.09 6.92 -21.82 6.78 -19.73 7.82 -28.52 6.99 -29.52 7.12
-30.48 7.29 -32.03 7.60 -31.85 6.92 -31.80 6.67 -34.81 6.61 -35.90 7.79 -36.49 7.22 -37.86 6.90
-39.68 7.69 -48.61 6.96 -54.62 6.87 -57.27 7.06 -26.29 6.58 -27.15 6.52 -30.30 6.41 -32.94 6.37
-33.58 6.39 -14.85 6.41 -14.67 6.82 -6.79 6.05 -10.71 6.02 -15.44 6.10 -17.40 6.03 -19.86 6.14
-23.42 6.05 -24.28 6.12 -26.24 6.06 -26.83 6.22 -40.77 6.24 -42.37 6.19 -43.14 6.25 -43.33 6.01
-45.74 6.04 -48.70 6.17 -54.49 6.30 -54.85 6.26 -56.81 6.04 -64.97 6.24 0.30 6.13 -6.79 5.75
-15.08 5.75 -26.33 5.72 -29.20 5.75 -32.39 5.80 -45.06 5.81 -47.97 5.72 -58.91 5.70 -59.95 5.70
-61.55 5.81
"""

lon_pts_mid = """
61.8 5.46 61.8 5.28 59.2 4.55 63.1 4.81 63.3 4.27 62.8 4.03 63.3 3.99 62.3 3.86
61.4 3.97 60.9 3.91 59.8 3.82 59.6 3.59 60.5 3.45 60.8 3.32 60.3 3.04 61.5 3.03
63.3 2.72 64.5 2.66 55.0 4.81 55.5 4.81 53.7 4.31 53.6 4.90 53.2 5.30 54.1 3.82
54.0 3.75 54.5 3.69 53.3 3.93 56.9 3.86 56.0 2.87 56.0 2.78 49.8 4.98 48.7 4.79
49.6 4.25 49.0 3.99 48.6 3.93 49.7 3.58 49.1 3.49 51.6 3.91 52.2 3.52 51.8 3.41
46.5 5.46 46.9 5.27 47.7 4.83 46.5 3.75 45.9 3.78 44.9 4.96 44.1 4.14 44.5 3.37
44.5 3.91 43.1 3.82 42.3 4.77 42.2 4.68 41.1 4.38 41.3 3.69 40.9 3.56 40.8 3.49
38.3 5.17 38.2 4.25 37.8 3.99 37.6 4.12 36.7 4.59 36.4 3.84 36.4 3.65 36.2 3.78
35.6 5.50 34.3 5.33 35.1 4.47 33.2 4.28 32.3 4.59 32.1 5.37 32.3 3.49 31.6 3.78
31.3 4.55 30.8 4.25 30.6 4.03 30.4 4.77 29.2 5.11 29.0 3.84 28.3 3.82 27.7 3.75
29.5 3.47 26.9 3.43 25.8 4.98 25.0 5.07 24.6 4.94 25.4 4.64 25.1 4.51 24.1 4.42
23.7 3.99 23.2 4.05 22.4 5.67 21.5 4.55 22.3 3.58 19.6 5.60 20.8 4.16 17.0 5.20
15.9 5.22 17.2 4.90 16.7 4.47 15.6 4.85 14.9 4.55 14.8 4.51 14.6 4.12 13.8 3.82
13.5 3.78 15.3 3.91 12.5 4.16 12.2 3.95 11.2 4.25 10.2 4.16 9.9 5.56 8.9 4.90
8.5 3.82 7.6 4.75 7.1 5.26 6.6 3.52
57.2 3.22 55.0 3.19 53.1 3.13 52.1 2.96 51.0 3.13 49.3 3.09 48.7 3.17 47.2 3.24
45.6 3.13 44.9 3.39 42.1 3.23 40.9 3.30 38.5 3.22 37.2 3.13 35.4 3.20 34.1 3.13
33.1 3.30 31.4 3.09 30.5 3.22 29.0 3.13 27.4 3.26 26.0 3.52 25.4 3.30 24.4 3.22
22.8 3.39 21.4 3.13 19.7 3.30 18.0 3.39 16.7 3.22 15.0 3.30 14.1 3.43 12.8 3.13
11.5 3.39 10.3 3.23 8.7 3.09 7.4 3.20
1.08 5.39 2.80 5.07 2.16 4.94 -2.01 4.84 4.72 4.44 4.42 3.97 0.59 4.35 -1.62 4.16
1.08 3.78 -0.25 3.79 -1.38 3.82 3.78 3.59 3.64 3.17 2.46 3.49 -8.89 5.52 -12.33 4.98
-13.07 5.20 -9.09 4.94 -8.65 4.68 -6.54 4.53 -6.93 4.42 -4.57 3.99 -4.08 3.69 -5.31 3.47
-8.40 4.08 -9.48 4.05 -11.70 4.53 -11.35 3.99 -12.09 3.78 -12.92 3.95 -9.39 3.56 -10.12 3.39
-14.50 4.27 -15.63 4.12 -14.50 3.45 -15.77 3.26 -17.10 3.91 -18.43 3.82 -18.97 5.16 -19.31 5.07
-22.00 5.22 -21.28 4.61 -19.90 4.42 -20.20 4.23 -21.52 4.06 -23.14 4.42 -23.49 5.41 -24.23 5.54
-23.98 4.94 -25.45 4.53 -26.34 5.67 -26.68 4.98 -26.93 4.68 -26.93 4.42 -26.68 3.82 -26.93 3.73
-24.23 3.99 -23.98 3.78 -25.55 3.78 -27.67 5.07 -28.80 5.20 -30.76 4.70 -30.96 4.47 -30.12 5.09
-29.14 4.08 -29.88 3.78 -32.58 4.25 -33.22 4.68 -33.61 4.51 -34.05 5.22 -34.45 5.17 -34.79 5.13
-35.87 5.54 -36.02 4.98 -35.68 4.51 -34.40 4.21 -33.81 3.91 -32.33 3.91 -33.56 3.56 -34.89 3.99
-37.89 3.86 -38.87 3.84 -38.97 3.65 -39.46 3.43 -39.95 3.39 -39.21 5.03 -38.97 4.59 -39.36 4.58
-39.71 5.57 -42.31 5.63 -42.90 5.63 -42.16 5.41 -42.56 5.24 -48.45 5.53 -47.91 5.69 -48.80 5.20
-47.47 5.17 -48.45 4.47 -49.78 4.21 -46.09 4.25 -47.08 4.08 -48.55 3.91 -49.39 3.65 -50.02 3.43
-51.25 4.98 -51.60 4.87 -51.40 4.42 -52.24 5.16 -54.35 5.63 -54.69 5.50 -54.05 4.96 -54.35 4.72
-54.69 4.59 -55.68 4.47 -56.02 5.16 -57.15 5.04 -58.62 5.65 -59.85 5.65 -58.28 4.87 -59.61 4.85
-59.95 4.77 -60.49 4.64 -61.18 4.57 -61.33 4.38 -61.08 3.99 -62.46 4.29 -61.33 3.69 -61.18 3.49
-61.57 3.30 -62.80 5.50 -64.03 5.53 -64.52 4.03
1.5 3.05 -2.8 2.95 -5.5 3.22 -8.1 3.11 -11.4 2.98 -13.9 3.27 -17.2 3.08 -19.8 2.91
-22.6 3.18 -25.9 3.02 -28.4 3.31 -31.1 2.94 -34.0 3.13 -36.7 3.26 -39.2 2.97 -41.8 3.15
-44.3 3.05 -46.9 2.89 -49.5 3.21 -52.1 3.09 -54.6 2.93 -57.2 3.28 -59.8 3.12 -62.4 2.99
-64.7 3.17 3.3 3.35 -6.9 3.38
"""

lon_pts_core = """
62.4 0.28 59.1 0.35 55.8 0.19 52.6 0.31 49.3 0.24 46.1 0.38 42.9 0.17 39.6 0.29
36.4 0.36 33.2 0.22 29.9 0.33 26.7 0.15 23.4 0.27 20.2 0.39 16.9 0.21 13.7 0.32
10.4 0.25 7.2 0.37 3.9 0.18 0.7 0.30 -2.6 0.23 -5.8 0.36 -9.1 0.16 -12.3 0.28
-15.6 0.34 -18.8 0.20 -22.1 0.31 -25.3 0.26 -28.6 0.39 -31.8 0.19 -35.1 0.29 -38.3 0.35
-41.6 0.22 -44.8 0.33 -48.1 0.17 -51.3 0.27 -54.6 0.38 -57.8 0.24 -61.1 0.31 -63.9 0.21
63.5 0.62 62.1 0.47 60.6 0.71 59.2 0.55 57.8 0.43 56.4 0.66 54.9 0.78 53.5 0.51
52.1 0.59 50.7 0.74 49.2 0.45 47.8 0.63 46.4 0.56 45.0 0.77 43.5 0.49 42.1 0.68
40.7 0.41 39.3 0.60 37.8 0.73 36.4 0.52 35.0 0.65 33.6 0.44 32.1 0.79 30.7 0.57
29.3 0.69 27.9 0.48 26.4 0.61 25.0 0.75 23.6 0.53 22.2 0.42 20.7 0.67 19.3 0.58
17.9 0.76 16.5 0.46 15.0 0.64 13.6 0.54 12.2 0.72 10.8 0.40 9.3 0.62 7.9 0.78
6.5 0.50 5.1 0.66 3.6 0.57 2.2 0.74 0.8 0.45 -0.6 0.61 -2.1 0.70 -3.5 0.52
-4.9 0.43 -6.3 0.68 -7.8 0.59 -9.2 0.77 -10.6 0.47 -12.0 0.64 -13.5 0.55 -14.9 0.73
-16.3 0.41 -17.7 0.60 -19.2 0.79 -20.6 0.51 -22.0 0.66 -23.4 0.44 -24.9 0.71 -26.3 0.58
-27.7 0.49 -29.1 0.75 -30.6 0.63 -32.0 0.42 -33.4 0.69 -34.8 0.54 -36.3 0.77 -37.7 0.46
-39.1 0.65 -40.5 0.56 -42.0 0.72 -43.4 0.48 -44.8 0.61 -46.2 0.78 -47.7 0.53 -49.1 0.44
-50.5 0.67 -51.9 0.59 -53.4 0.74 -54.8 0.47 -56.2 0.63 -57.6 0.55 -59.1 0.76 -60.5 0.43
-61.9 0.60 -63.4 0.70
64.2 0.96 62.9 1.12 61.6 0.85 60.3 1.04 59.0 1.17 57.7 0.89 56.4 1.01 55.1 0.82
53.8 1.15 52.5 0.94 51.2 1.08 49.9 0.86 48.6 1.19 47.3 0.98 46.0 0.83 44.7 1.11
43.4 0.92 42.1 1.05 40.8 0.81 39.5 1.16 38.2 0.97 36.9 1.09 35.6 0.87 34.3 1.02
33.0 1.18 31.7 0.90 30.4 1.06 29.1 0.84 27.8 1.13 26.5 0.95 25.2 1.00 23.9 0.88
22.6 1.14 21.3 0.93 20.0 1.07 18.7 0.82 17.4 1.19 16.1 0.99 14.8 0.86 13.5 1.10
12.2 0.91 10.9 1.03 9.6 0.85 8.3 1.16 7.0 0.96 5.7 1.08 4.4 0.83 3.1 1.12
1.8 0.94 0.5 1.05 -0.8 0.87 -2.1 1.17 -3.4 0.98 -4.7 0.81 -6.0 1.09 -7.3 0.92
-8.6 1.04 -9.9 0.86 -11.2 1.14 -12.5 0.95 -13.8 1.07 -15.1 0.84 -16.4 1.18 -17.7 0.97
-19.0 0.89 -20.3 1.11 -21.6 0.93 -22.9 1.02 -24.2 0.82 -25.5 1.15 -26.8 0.99 -28.1 1.06
-29.4 0.88 -30.7 1.13 -32.0 0.94 -33.3 1.01 -34.6 0.85 -35.9 1.19 -37.2 0.96 -38.5 1.08
-39.8 0.83 -41.1 1.12 -42.4 0.91 -43.7 1.05 -45.0 0.87 -46.3 1.16 -47.6 0.98 -48.9 0.81
-50.2 1.10 -51.5 0.93 -52.8 1.03 -54.1 0.86 -55.4 1.17 -56.7 0.95 -58.0 1.07 -59.3 0.84
-60.6 1.14 -61.9 0.97 -63.2 0.89 -64.4 1.06
63.8 1.38 62.4 1.25 60.9 1.51 59.5 1.33 58.1 1.22 56.6 1.46 55.2 1.57 53.8 1.29
52.3 1.41 50.9 1.54 49.5 1.24 48.0 1.37 46.6 1.48 45.2 1.21 43.7 1.59 42.3 1.32
40.9 1.44 39.4 1.27 38.0 1.53 36.6 1.36 35.1 1.23 33.7 1.49 32.3 1.31 30.8 1.58
29.4 1.40 28.0 1.26 26.5 1.45 25.1 1.34 23.7 1.55 22.2 1.22 20.8 1.43 19.4 1.30
17.9 1.52 16.5 1.38 15.1 1.24 13.6 1.47 12.2 1.35 10.8 1.56 9.3 1.28 7.9 1.42
6.5 1.21 5.0 1.50 3.6 1.33 2.2 1.45 0.7 1.27 -0.7 1.58 -2.1 1.39 -3.6 1.23
-5.0 1.48 -6.4 1.32 -7.9 1.54 -9.3 1.26 -10.7 1.43 -12.2 1.36 -13.6 1.22 -15.0 1.51
-16.5 1.34 -17.9 1.46 -19.3 1.29 -20.8 1.57 -22.2 1.40 -23.6 1.24 -25.1 1.49 -26.5 1.31
-27.9 1.44 -29.4 1.21 -30.8 1.53 -32.2 1.37 -33.7 1.28 -35.1 1.55 -36.5 1.42 -38.0 1.25
-39.4 1.47 -40.8 1.33 -42.3 1.59 -43.7 1.30 -45.1 1.45 -46.6 1.23 -48.0 1.52 -49.4 1.36
-50.9 1.27 -52.3 1.48 -53.7 1.39 -55.2 1.56 -56.6 1.25 -58.0 1.43 -59.5 1.32 -60.9 1.50
-62.3 1.26 -63.8 1.41
63.1 1.78 61.4 1.92 59.6 1.65 57.9 1.84 56.2 1.97 54.5 1.69 52.7 1.81 51.0 1.62
49.3 1.95 47.6 1.74 45.8 1.88 44.1 1.66 42.4 1.99 40.7 1.77 38.9 1.63 37.2 1.91
35.5 1.72 33.8 1.85 32.0 1.61 30.3 1.96 28.6 1.76 26.9 1.89 25.1 1.67 23.4 1.82
21.7 1.98 20.0 1.70 18.2 1.86 16.5 1.64 14.8 1.93 13.1 1.75 11.3 1.83 9.6 1.62
7.9 1.94 6.2 1.73 4.4 1.87 2.7 1.68 1.0 1.99 -0.7 1.79 -2.5 1.65 -4.2 1.90
-5.9 1.71 -7.6 1.84 -9.4 1.63 -11.1 1.97 -12.8 1.76 -14.5 1.88 -16.3 1.67 -18.0 1.81
-19.7 1.95 -21.4 1.69 -23.2 1.86 -24.9 1.61 -26.6 1.92 -28.3 1.74 -30.1 1.83 -31.8 1.66
-33.5 1.98 -35.2 1.77 -37.0 1.64 -38.7 1.89 -40.4 1.72 -42.1 1.85 -43.9 1.62 -45.6 1.94
-47.3 1.75 -49.0 1.87 -50.8 1.68 -52.5 1.96 -54.2 1.78 -55.9 1.63 -57.7 1.91 -59.4 1.73
-61.1 1.84 -62.8 1.66 -64.3 1.93
62.6 2.18 60.4 2.31 58.3 2.06 56.1 2.24 54.0 2.37 51.8 2.11 49.7 2.28 47.5 2.03
45.4 2.34 43.2 2.15 41.1 2.26 38.9 2.08 36.8 2.39 34.6 2.19 32.5 2.02 30.3 2.30
28.2 2.13 26.0 2.25 23.9 2.36 21.7 2.07 19.6 2.22 17.4 2.14 15.3 2.33 13.1 2.05
11.0 2.27 8.8 2.18 6.7 2.38 4.5 2.10 2.4 2.29 0.2 2.16 -1.9 2.35 -4.1 2.04
-6.2 2.23 -8.4 2.12 -10.5 2.31 -12.7 2.08 -14.8 2.26 -17.0 2.37 -19.1 2.15 -21.3 2.02
-23.4 2.28 -25.6 2.19 -27.7 2.34 -29.9 2.06 -32.0 2.24 -34.2 2.13 -36.3 2.39 -38.5 2.09
-40.6 2.21 -42.8 2.32 -44.9 2.05 -47.1 2.27 -49.2 2.17 -51.4 2.36 -53.5 2.11 -55.7 2.25
-57.8 2.03 -60.0 2.30 -62.1 2.14 -64.2 2.22
63.9 2.58 61.0 2.71 58.2 2.46 55.3 2.64 52.5 2.77 49.6 2.52 46.8 2.68 43.9 2.43
41.1 2.74 38.2 2.55 35.4 2.66 32.5 2.48 29.7 2.79 26.8 2.59 24.0 2.42 21.1 2.70
18.3 2.53 15.4 2.65 12.6 2.76 9.7 2.47 6.9 2.62 4.0 2.54 1.2 2.73 -1.7 2.45
-4.5 2.67 -7.4 2.57 -10.2 2.78 -13.1 2.49 -15.9 2.63 -18.8 2.41 -21.6 2.72 -24.5 2.56
-27.3 2.69 -30.2 2.44 -33.0 2.61 -35.9 2.75 -38.7 2.50 -41.6 2.66 -44.4 2.58 -47.3 2.77
-50.1 2.46 -53.0 2.68 -55.8 2.53 -58.7 2.71 -61.5 2.60
63.0 0.45 60.4 0.38 57.8 0.52 55.2 0.41 52.6 0.34 50.0 0.49 47.4 0.43 44.8 0.55
42.2 0.37 39.6 0.47 37.0 0.32 34.4 0.51 31.8 0.44 29.2 0.36 26.6 0.53 24.0 0.40
21.4 0.48 18.8 0.35 16.2 0.50 13.6 0.42 11.0 0.54 8.4 0.38 5.8 0.46 3.2 0.52
0.6 0.33 -2.0 0.49 -4.6 0.41 -7.2 0.53 -9.8 0.37 -12.4 0.45 -15.0 0.51 -17.6 0.39
-20.2 0.47 -22.8 0.34 -25.4 0.52 -28.0 0.43 -30.6 0.50 -33.2 0.38 -35.8 0.55 -38.4 0.41
-41.0 0.48 -43.6 0.36 -46.2 0.52 -48.8 0.44 -51.4 0.39 -54.0 0.53 -56.6 0.46 -59.2 0.37
-61.8 0.51 -64.2 0.42
63.6 0.84 61.2 0.77 58.9 0.91 56.5 0.80 54.2 0.75 51.8 0.88 49.5 0.82 47.1 0.94
44.8 0.78 42.4 0.86 40.1 0.76 37.7 0.92 35.4 0.83 33.0 0.79 30.7 0.95 28.3 0.81
26.0 0.87 23.6 0.76 21.3 0.90 18.9 0.82 16.6 0.94 14.2 0.78 11.9 0.85 9.5 0.91
7.2 0.75 4.8 0.88 2.5 0.80 0.1 0.93 -2.2 0.77 -4.6 0.86 -6.9 0.92 -9.3 0.79
-11.6 0.87 -14.0 0.75 -16.3 0.91 -18.7 0.82 -21.0 0.89 -23.4 0.78 -25.7 0.94 -28.1 0.80
-30.4 0.86 -32.8 0.76 -35.1 0.92 -37.5 0.83 -39.8 0.79 -42.2 0.95 -44.5 0.81 -46.9 0.87
-49.2 0.77 -51.6 0.90 -53.9 0.84 -56.3 0.93 -58.6 0.78 -61.0 0.88 -63.3 0.82
62.7 1.24 60.1 1.18 57.5 1.31 54.9 1.21 52.3 1.16 49.7 1.29 47.1 1.23 44.5 1.34
41.9 1.19 39.3 1.27 36.7 1.15 34.1 1.32 31.5 1.25 28.9 1.20 26.3 1.35 23.7 1.22
21.1 1.28 18.5 1.17 15.9 1.30 13.3 1.23 10.7 1.34 8.1 1.19 5.5 1.26 2.9 1.33
0.3 1.16 -2.3 1.29 -4.9 1.21 -7.5 1.32 -10.1 1.18 -12.7 1.25 -15.3 1.31 -17.9 1.20
-20.5 1.27 -23.1 1.16 -25.7 1.33 -28.3 1.23 -30.9 1.30 -33.5 1.19 -36.1 1.35 -38.7 1.22
-41.3 1.28 -43.9 1.17 -46.5 1.32 -49.1 1.24 -51.7 1.20 -54.3 1.34 -56.9 1.26 -59.5 1.18
-62.1 1.31 -64.5 1.22
64.0 1.55 61.1 1.49 58.2 1.61 55.3 1.52 52.4 1.46 49.5 1.59 46.6 1.53 43.7 1.64
40.8 1.48 37.9 1.57 35.0 1.45 32.1 1.62 29.2 1.54 26.3 1.50 23.4 1.65 20.5 1.51
17.6 1.58 14.7 1.47 11.8 1.60 8.9 1.53 6.0 1.63 3.1 1.49 0.2 1.56 -2.7 1.62
-5.6 1.46 -8.5 1.59 -11.4 1.51 -14.3 1.64 -17.2 1.48 -20.1 1.55 -23.0 1.61 -25.9 1.50
-28.8 1.57 -31.7 1.46 -34.6 1.63 -37.5 1.53 -40.4 1.60 -43.3 1.49 -46.2 1.65 -49.1 1.52
-52.0 1.58 -54.9 1.47 -57.8 1.62 -60.7 1.54 -63.6 1.50
"""

lon_pts_dense = """
62.8 0.63 59.9 0.57 57.0 0.68 54.1 0.60 51.2 0.55 48.3 0.66 45.4 0.62 42.5 0.70
39.6 0.58 36.7 0.64 33.8 0.56 30.9 0.69 28.0 0.61 25.1 0.67 22.2 0.55 19.3 0.63
16.4 0.59 13.5 0.70 10.6 0.57 7.7 0.65 4.8 0.60 1.9 0.68 -1.0 0.56 -3.9 0.64
-6.8 0.61 -9.7 0.69 -12.6 0.55 -15.5 0.66 -18.4 0.59 -21.3 0.63 -24.2 0.70 -27.1 0.57
-30.0 0.65 -32.9 0.60 -35.8 0.68 -38.7 0.56 -41.6 0.64 -44.5 0.61 -47.4 0.69 -50.3 0.58
-53.2 0.66 -56.1 0.55 -59.0 0.63 -61.9 0.67 -64.6 0.59
63.3 1.02 60.4 0.97 57.5 1.07 54.6 1.00 51.7 0.95 48.8 1.05 45.9 1.01 43.0 1.09
40.1 0.98 37.2 1.04 34.3 0.96 31.4 1.08 28.5 1.00 25.6 1.06 22.7 0.95 19.8 1.03
16.9 0.99 14.0 1.10 11.1 0.97 8.2 1.05 5.3 1.00 2.4 1.08 -0.5 0.96 -3.4 1.04
-6.3 1.01 -9.2 1.09 -12.1 0.95 -15.0 1.06 -17.9 0.99 -20.8 1.03 -23.7 1.10 -26.6 0.97
-29.5 1.05 -32.4 1.00 -35.3 1.08 -38.2 0.96 -41.1 1.04 -44.0 1.01 -46.9 1.09 -49.8 0.98
-52.7 1.06 -55.6 0.95 -58.5 1.03 -61.4 1.07 -64.1 0.99
62.5 1.37 59.6 1.32 56.7 1.42 53.8 1.35 50.9 1.30 48.0 1.40 45.1 1.36 42.2 1.44
39.3 1.33 36.4 1.39 33.5 1.31 30.6 1.43 27.7 1.35 24.8 1.41 21.9 1.30 19.0 1.38
16.1 1.34 13.2 1.45 10.3 1.32 7.4 1.40 4.5 1.35 1.6 1.43 -1.3 1.31 -4.2 1.39
-7.1 1.36 -10.0 1.44 -12.9 1.30 -15.8 1.41 -18.7 1.34 -21.6 1.38 -24.5 1.45 -27.4 1.32
-30.3 1.40 -33.2 1.35 -36.1 1.43 -39.0 1.31 -41.9 1.39 -44.8 1.36 -47.7 1.44 -50.6 1.33
-53.5 1.41 -56.4 1.30 -59.3 1.38 -62.2 1.42 -64.8 1.34
63.5 1.86 59.8 1.79 56.1 1.93 52.4 1.83 48.7 1.76 45.0 1.90 41.3 1.85 37.6 1.95
33.9 1.78 30.2 1.88 26.5 1.81 22.8 1.92 19.1 1.77 15.4 1.87 11.7 1.83 8.0 1.94
4.3 1.80 0.6 1.89 -3.1 1.84 -6.8 1.91 -10.5 1.75 -14.2 1.86 -17.9 1.82 -21.6 1.93
-25.3 1.79 -29.0 1.88 -32.7 1.85 -36.4 1.95 -40.1 1.77 -43.8 1.87 -47.5 1.81 -51.2 1.92
-54.9 1.78 -58.6 1.89 -62.3 1.84
"""


def parse_pairs(*blocks):
    vals = np.array(" ".join(blocks).split(), dtype=float).reshape(-1, 2)
    return vals[:, 0], vals[:, 1]


lat_x, lat_y = parse_pairs(lat_pts_high, lat_pts_mid, lat_pts_low, lat_pts_core, lat_pts_dense)
lon_x, lon_y = parse_pairs(lon_pts_high, lon_pts_mid, lon_pts_core, lon_pts_dense)

# ---------------- styling ----------------
sns.set_style("ticks")
plt.rcParams["font.family"] = ["Liberation Serif", "DejaVu Serif"]
plt.rcParams["mathtext.fontset"] = "stix"
plt.rcParams["axes.unicode_minus"] = True
plt.rcParams["text.color"] = "black"
plt.rcParams["axes.labelcolor"] = "black"
plt.rcParams["axes.edgecolor"] = "black"

FIG_W, FIG_H = 15.68, 18.45
fig = plt.figure(figsize=(FIG_W, FIG_H), dpi=100)
ax1 = fig.add_axes([0.1014, 0.5653, 0.8890, 0.4190])
ax2 = fig.add_axes([0.1014, 0.0640, 0.8890, 0.4179])

POINT_COLOR = "#1f77b4"
TICK_FS = 28
LABEL_FS = 39
LEGEND_FS = 27
LW = 5
MS = 11


def draw_panel(ax, px, py, bins, avg, rms, med):
    sns.scatterplot(x=px, y=py, ax=ax, s=36, color=POINT_COLOR, alpha=0.5,
                    edgecolor=POINT_COLOR, linewidth=1.0, zorder=1, legend=False)
    sns.lineplot(x=np.array(bins), y=np.array(avg), ax=ax, color="red", linewidth=LW,
                 marker="D", markersize=MS, markeredgecolor="red", zorder=3, legend=False)
    sns.lineplot(x=np.array(bins), y=np.array(rms), ax=ax, color="red", linewidth=LW,
                 linestyle="--", zorder=3, legend=False)
    sns.lineplot(x=np.array(bins), y=np.array(med), ax=ax, color="m", linewidth=LW,
                 marker="D", markersize=MS, markeredgecolor="m", zorder=4, legend=False)
    ax.set_ylim(0, 20)
    ax.yaxis.set_major_locator(MultipleLocator(2.5))
    ax.yaxis.set_minor_locator(MultipleLocator(1.0))
    for sp in ax.spines.values():
        sp.set_linewidth(2.5)
        sp.set_color("black")
    ax.tick_params(which="both", direction="in", top=True, right=True,
                   bottom=True, left=True, colors="black", labelsize=TICK_FS)
    ax.tick_params(which="major", length=12, width=2.8)
    ax.tick_params(which="minor", length=5, width=2)
    ax.tick_params(axis="x", which="major", pad=8)
    ax.tick_params(axis="y", which="major", pad=8)
    ax.set_ylabel(r"$D_{eff}$ (arcmin)", fontsize=LABEL_FS, labelpad=10)
    handles = [Line2D([], [], color="red", lw=LW),
               Line2D([], [], color="red", lw=LW, ls="--"),
               Line2D([], [], color="m", lw=LW)]
    ax.legend(handles, ["Average", "RMS", "Median"], loc="upper right",
              fontsize=LEGEND_FS, handlelength=2.2, frameon=True, fancybox=True,
              edgecolor="0.8", framealpha=0.8)


draw_panel(ax1, lat_x, lat_y, lat_bins, lat_avg, lat_rms, lat_med)
ax1.set_xlim(-1.2, 1.2)
ax1.xaxis.set_major_locator(MultipleLocator(0.5))
ax1.xaxis.set_minor_locator(MultipleLocator(0.1))
ax1.set_xlabel("Galatic latitude (deg)", fontsize=LABEL_FS, labelpad=6)

draw_panel(ax2, lon_x, lon_y, lon_bins, lon_avg, lon_rms, lon_med)
ax2.set_xlim(70, -70)
ax2.xaxis.set_major_locator(MultipleLocator(20))
ax2.xaxis.set_minor_locator(MultipleLocator(5))
ax2.set_xlabel("Galatic longitude (deg)", fontsize=LABEL_FS, labelpad=6)

fig.savefig("out.png", dpi=100)
